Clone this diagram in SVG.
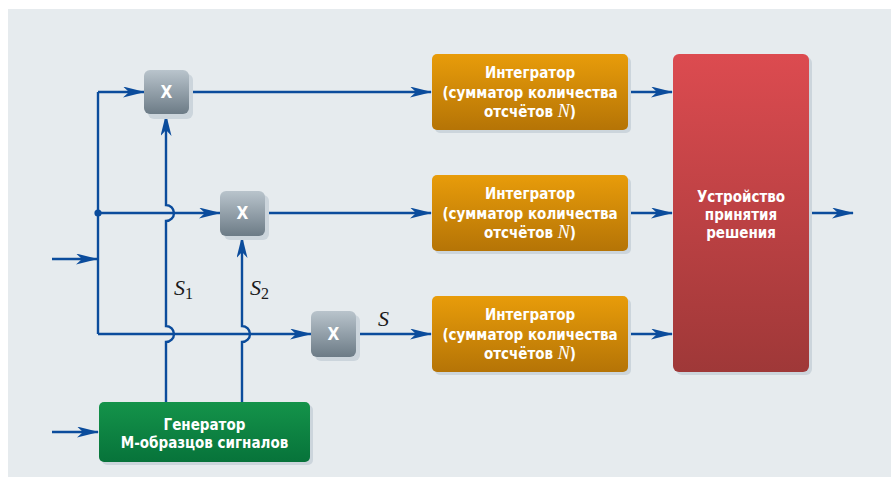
<svg xmlns="http://www.w3.org/2000/svg" width="891" height="486" viewBox="0 0 891 486">
  <defs>
    <linearGradient id="gMul" x1="0" y1="0" x2="0" y2="1">
      <stop offset="0" stop-color="#b9c4cc"/>
      <stop offset="1" stop-color="#6c7b86"/>
    </linearGradient>
    <linearGradient id="gInt" x1="0" y1="0" x2="0" y2="1">
      <stop offset="0" stop-color="#e89c0a"/>
      <stop offset="1" stop-color="#b57406"/>
    </linearGradient>
    <linearGradient id="gDec" x1="0" y1="0" x2="0" y2="1">
      <stop offset="0" stop-color="#dc4b50"/>
      <stop offset="1" stop-color="#9f3838"/>
    </linearGradient>
    <linearGradient id="gGen" x1="0" y1="0" x2="0" y2="1">
      <stop offset="0" stop-color="#14934a"/>
      <stop offset="1" stop-color="#07733a"/>
    </linearGradient>
    <marker id="arr" viewBox="0 0 22 11" refX="21" refY="5.5" markerWidth="22" markerHeight="11" markerUnits="userSpaceOnUse" orient="auto">
      <path d="M0,0 L22,5.5 L0,11 L6,5.5 z" fill="#0b4c9c"/>
    </marker>
    <style>
      .ln{fill:none;stroke:#0b4c9c;stroke-width:2.4}
      .sh{fill:#ccd5dc}
      .lbl{font-family:"Liberation Sans Narrow","DejaVu Sans Condensed","Liberation Sans",sans-serif;font-weight:bold;font-size:15px;fill:#ffffff;text-anchor:middle}
      .x{font-family:"DejaVu Sans Condensed","Liberation Sans",sans-serif;font-weight:bold;font-size:17px;fill:#ffffff;text-anchor:middle}
      .m{font-family:"Liberation Serif","Times New Roman",serif;font-style:italic;font-size:22px;fill:#1a1a1a}
      .sub{font-family:"Liberation Serif","Times New Roman",serif;font-style:normal;font-size:16px;fill:#1a1a1a}
      .n{font-family:"Liberation Serif","Times New Roman",serif;font-style:italic;font-weight:normal;font-size:18px}
    </style>
  </defs>

  <rect x="0" y="0" width="891" height="486" fill="#ffffff"/>
  <rect x="8" y="9" width="883" height="468" fill="#e6ebee"/>

  <g id="connectors">
    <!-- input bus -->
    <path class="ln" d="M52,259 H97" marker-end="url(#arr)"/>
    <path class="ln" d="M98,92 V334"/>
    <path class="ln" d="M98,92 H144" marker-end="url(#arr)"/>
    <path class="ln" d="M98,213 H220" marker-end="url(#arr)"/>
    <path class="ln" d="M98,334 H311" marker-end="url(#arr)"/>
    <circle cx="98" cy="213" r="3.6" fill="#0b4c9c"/>
    <!-- generator outputs with hop-overs -->
    <path class="ln" d="M166,402 V342 A8,8 0 0 0 166,326 V221 A8,8 0 0 0 166,205 V115" marker-end="url(#arr)"/>
    <path class="ln" d="M242,402 V342 A8,8 0 0 0 242,326 V237" marker-end="url(#arr)"/>
    <path class="ln" d="M52,432 H98" marker-end="url(#arr)"/>
    <!-- multipliers to integrators -->
    <path class="ln" d="M189,92 H431" marker-end="url(#arr)"/>
    <path class="ln" d="M265,213 H431" marker-end="url(#arr)"/>
    <path class="ln" d="M356,334 H431" marker-end="url(#arr)"/>
    <!-- integrators to decision device -->
    <path class="ln" d="M628,92 H672" marker-end="url(#arr)"/>
    <path class="ln" d="M628,213 H672" marker-end="url(#arr)"/>
    <path class="ln" d="M628,334 H672" marker-end="url(#arr)"/>
    <path class="ln" d="M809,213 H853" marker-end="url(#arr)"/>
    <!-- signal labels -->
    <text class="m" x="174" y="295">S<tspan class="sub" dy="4">1</tspan></text>
    <text class="m" x="250" y="295">S<tspan class="sub" dy="4">2</tspan></text>
    <text class="m" x="378" y="326">S</text>
  </g>

  <g id="mul1">
    <rect class="sh" x="148" y="74" width="45" height="45" rx="6"/>
    <rect x="144" y="70" width="45" height="44" rx="6" fill="url(#gMul)"/>
    <text class="x" x="166.5" y="98">X</text>
  </g>
  <g id="mul2">
    <rect class="sh" x="224" y="195" width="45" height="45" rx="6"/>
    <rect x="220" y="191" width="45" height="45" rx="6" fill="url(#gMul)"/>
    <text class="x" x="242.5" y="219">X</text>
  </g>
  <g id="mul3">
    <rect class="sh" x="315" y="315" width="45" height="46" rx="6"/>
    <rect x="311" y="311" width="45" height="46" rx="6" fill="url(#gMul)"/>
    <text class="x" x="333.5" y="340">X</text>
  </g>

  <g id="integrator1">
    <rect class="sh" x="435" y="57" width="196" height="76" rx="5"/>
    <rect x="432" y="54" width="196" height="76" rx="5" fill="url(#gInt)"/>
    <text class="lbl" x="530" y="78">Интегратор</text>
    <text class="lbl" x="530" y="98">(сумматор количества</text>
    <text class="lbl" x="530" y="117">отсчётов <tspan class="n">N</tspan>)</text>
  </g>
  <g id="integrator2">
    <rect class="sh" x="435" y="178" width="196" height="76" rx="5"/>
    <rect x="432" y="175" width="196" height="76" rx="5" fill="url(#gInt)"/>
    <text class="lbl" x="530" y="199">Интегратор</text>
    <text class="lbl" x="530" y="219">(сумматор количества</text>
    <text class="lbl" x="530" y="238">отсчётов <tspan class="n">N</tspan>)</text>
  </g>
  <g id="integrator3">
    <rect class="sh" x="435" y="299" width="196" height="76" rx="5"/>
    <rect x="432" y="296" width="196" height="76" rx="5" fill="url(#gInt)"/>
    <text class="lbl" x="530" y="320">Интегратор</text>
    <text class="lbl" x="530" y="340">(сумматор количества</text>
    <text class="lbl" x="530" y="359">отсчётов <tspan class="n">N</tspan>)</text>
  </g>

  <g id="decision">
    <rect class="sh" x="676" y="57" width="136" height="318" rx="6"/>
    <rect x="673" y="54" width="136" height="318" rx="6" fill="url(#gDec)"/>
    <text class="lbl" x="741" y="202">Устройство</text>
    <text class="lbl" x="741" y="220">принятия</text>
    <text class="lbl" x="741" y="238">решения</text>
  </g>

  <g id="generator">
    <rect class="sh" x="102" y="405" width="211" height="60" rx="5"/>
    <rect x="99" y="402" width="211" height="60" rx="5" fill="url(#gGen)"/>
    <text class="lbl" x="204.5" y="430">Генератор</text>
    <text class="lbl" x="204.5" y="448">М-образцов сигналов</text>
  </g>
</svg>
